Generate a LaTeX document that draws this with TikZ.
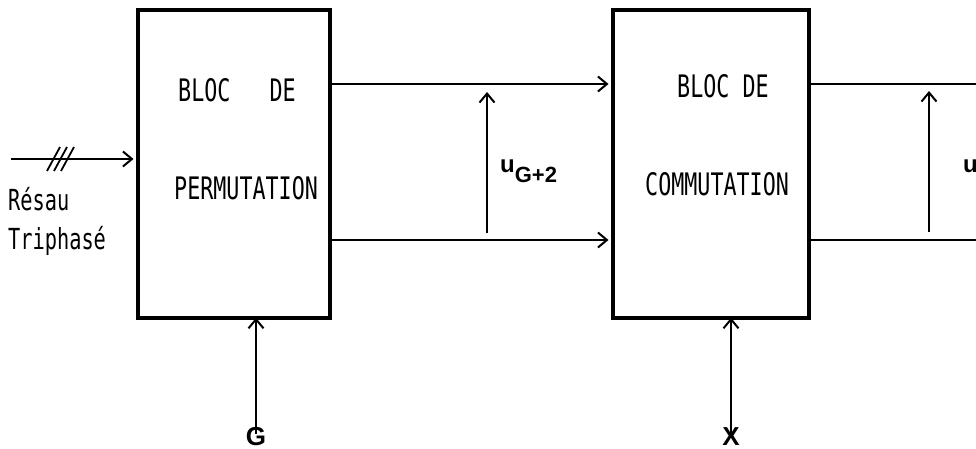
\documentclass[tikz,border=0pt]{standalone}
\usepackage{fontspec}
\usetikzlibrary{arrows.meta,calc}
\newfontfamily\plotfont[FakeStretch=0.7]{DejaVu Sans Mono}
\newfontfamily\labfont{Liberation Sans}
\begin{document}
\begin{tikzpicture}[x=1pt,y=-1pt,
  blk/.style={draw, line width=4.5pt, rectangle, inner sep=0pt},
  txt/.style={font=\plotfont\fontsize{31}{31}\selectfont, inner sep=0pt, anchor=base west},
  ltxt/.style={font=\plotfont\fontsize{29}{29}\selectfont, inner sep=0pt, anchor=base west},
  lab/.style={font=\labfont\bfseries\fontsize{26}{26}\selectfont, inner sep=0pt, anchor=base},
  wire/.style={line width=2.2pt},
  arr/.style={line width=2pt, -{Straight Barb[length=9pt,width=15pt]}}]
\useasboundingbox (0,0) rectangle (976,449);
\clip (0,0) rectangle (976,449);
% blocks
\node[blk, minimum width=192pt, minimum height=308pt] (b1) at (234,164) {};
\node[blk, minimum width=196pt, minimum height=308pt] (b2) at (711,164) {};
% block texts
\node[txt] (t1a) at (178,102) {BLOC\ \ \ DE};
\node[txt] (t1b) at (174,200) {PERMUTATION};
\node[txt] (t2a) at (677,98) {BLOC DE};
\node[txt] (t2b) at (645,196) {COMMUTATION};
% input
\coordinate (in0) at (11,159);
\draw[arr] (in0) -- ([xshift=-2.25pt]in0 -| b1.west);
\foreach \dx in {47,54,61}
  \draw[line width=1.8pt] (\dx,171) -- (\dx+13,147);
\node[ltxt] (r1) at (8,210) {Résau};
\node[ltxt] (r2) at (8,249) {Triphasé};
% links between blocks
\coordinate (h1) at (330,84);
\coordinate (h2) at (330,240);
\draw[arr] (h1) -- ([xshift=-2.25pt]h1 -| b2.west);
\draw[arr] (h2) -- ([xshift=-2.25pt]h2 -| b2.west);
\coordinate (v1a) at (487,233);
\coordinate (v1b) at (487,92);
\draw[arr] (v1a) -- (v1b);
\node[font=\labfont\bfseries\fontsize{24}{24}\selectfont, inner sep=0pt, anchor=base west] (u1) at (500,172) {u\raisebox{-10pt}{\fontsize{22}{22}\selectfont G+2}};
% outputs
\coordinate (e1) at (976,84);
\coordinate (e2) at (976,240);
\draw[wire] (b2.east |- e1) -- (e1);
\draw[wire] (b2.east |- e2) -- (e2);
\coordinate (v2a) at (929,232);
\coordinate (v2b) at (929,91);
\draw[arr] (v2a) -- (v2b);
\node[font=\labfont\bfseries\fontsize{24}{24}\selectfont, inner sep=0pt, anchor=base west] (u2) at (963,172) {u};
% control inputs
\node[lab] (g) at (256,445) {G};
\node[lab] (x) at (731,445) {X};
\draw[arr] ([yshift=-7pt]g.north) -- ([yshift=2.5pt]g.north |- b1.south);
\draw[arr] ([yshift=-7pt]x.north) -- ([yshift=2.5pt]x.north |- b2.south);
\end{tikzpicture}
\end{document}
